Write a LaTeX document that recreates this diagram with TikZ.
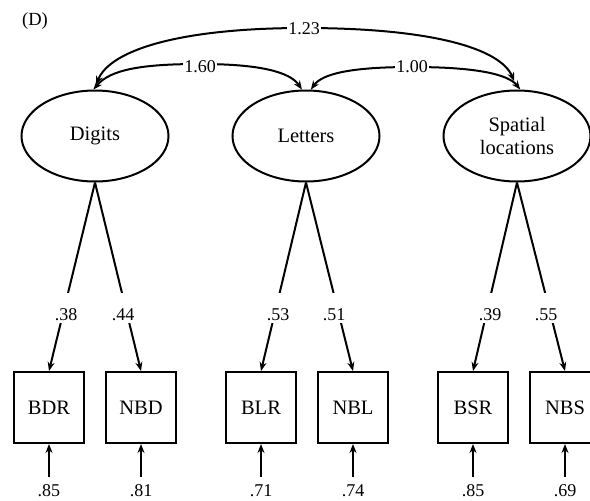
\documentclass[tikz,border=0pt]{standalone}
\usepackage{fontspec}
\setmainfont{Liberation Serif}
\usetikzlibrary{shapes.geometric,arrows.meta}
\begin{document}
\begin{tikzpicture}[x=1pt,y=-1pt,
  line width=2pt,
  latent/.style={draw,ellipse,minimum width=147pt,minimum height=91pt,inner sep=0pt,
    align=center,font=\fontsize{20.5}{23}\selectfont},
  indicator/.style={draw,rectangle,minimum width=70pt,minimum height=71pt,inner sep=0pt,
    font=\fontsize{20.5}{23}\selectfont},
  coef/.style={fill=white,inner xsep=2pt,inner ysep=1pt,text height=26pt,text depth=2pt,
    anchor=base,font=\fontsize{18}{20}\selectfont},
  covlab/.style={fill=white,inner xsep=1.5pt,inner ysep=2pt,font=\fontsize{18}{20}\selectfont},
  errlab/.style={inner xsep=1pt,inner ysep=7pt,font=\fontsize{18}{20}\selectfont},
  arr/.style={-{Stealth[length=9pt,width=7pt]}},
  arrboth/.style={{Stealth[length=9pt,width=7pt]}-{Stealth[length=9pt,width=7pt]}},
  ]
\useasboundingbox (0,0) rectangle (590,501);
\clip (0,0) rectangle (590,501);

\node[font=\fontsize{18.5}{20}\selectfont] (panel) at (35,21) {(D)};

% latent factors
\node[latent] (dig) at (95,136) {Digits};
\node[latent] (let) at (306,136) {Letters};
\node[latent] (spa) at (517,136) {Spatial\\locations};

% observed indicators
\node[indicator] (bdr) at (49,407.5) {BDR};
\node[indicator] (nbd) at (141,407.5) {NBD};
\node[indicator] (blr) at (261,407.5) {BLR};
\node[indicator] (nbl) at (353,407.5) {NBL};
\node[indicator] (bsr) at (473,407.5) {BSR};
\node[indicator] (nbs) at (565,407.5) {NBS};

% factor loadings
\draw[arr] (dig.south) -- (bdr.north);
\draw[arr] (dig.south) -- (nbd.north);
\draw[arr] (let.south) -- (blr.north);
\draw[arr] (let.south) -- (nbl.north);
\draw[arr] (spa.south) -- (bsr.north);
\draw[arr] (spa.south) -- (nbs.north);
\node[coef] (l1) at (66,320) {.38};
\node[coef] (l2) at (123,320) {.44};
\node[coef] (l3) at (278,320) {.53};
\node[coef] (l4) at (334,320) {.51};
\node[coef] (l5) at (490,320) {.39};
\node[coef] (l6) at (546,320) {.55};

% residuals
\node[errlab] (e1) at (49,491) {.85};
\node[errlab] (e2) at (141,491) {.81};
\node[errlab] (e3) at (261,491) {.71};
\node[errlab] (e4) at (353,491) {.74};
\node[errlab] (e5) at (473,491) {.85};
\node[errlab] (e6) at (565,491) {.69};
\draw[arr] (e1) -- (bdr);
\draw[arr] (e2) -- (nbd);
\draw[arr] (e3) -- (blr);
\draw[arr] (e4) -- (nbl);
\draw[arr] (e5) -- (bsr);
\draw[arr] (e6) -- (nbs);

% factor covariances
\draw[arrboth,shorten <=5pt,shorten >=9pt] (dig.91) .. controls (110,50) and (180,28) .. (304,28)
  .. controls (430,28) and (500,48) .. (spa.89);
\node[covlab] (c123) at (304,29) {1.23};
\draw[arrboth] (dig.92) .. controls (110,70) and (140,64) .. (200,64)
  .. controls (260,64) and (290,72) .. (let.95);
\node[covlab] (c160) at (200,67) {1.60};
\draw[arrboth] (let.84) .. controls (322,74) and (350,67) .. (412,67)
  .. controls (475,67) and (508,74) .. (spa.86);
\node[covlab] (c100) at (412,67) {1.00};
\end{tikzpicture}
\end{document}
